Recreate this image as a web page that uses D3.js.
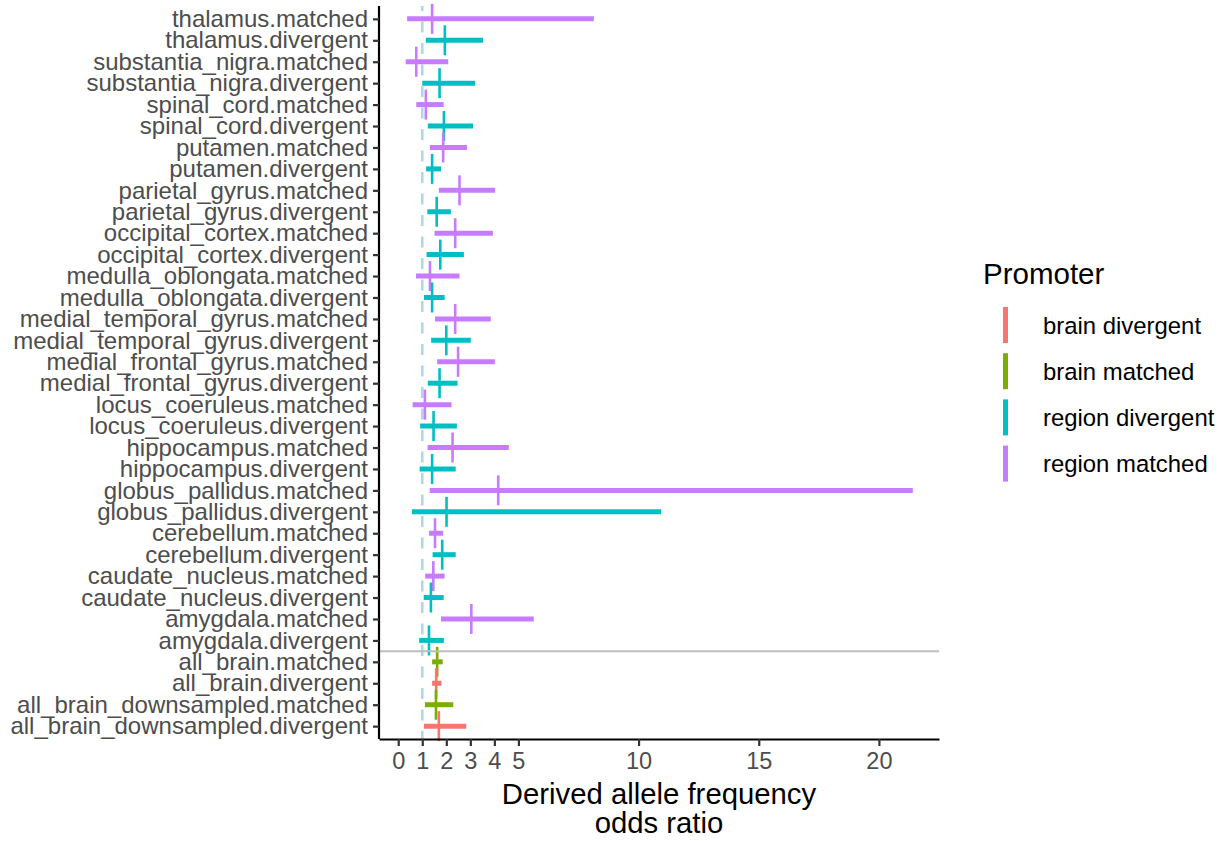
<!DOCTYPE html>
<html>
<head>
<meta charset="utf-8">
<script src="https://cdn.jsdelivr.net/npm/d3@7/dist/d3.min.js"></script>
<style>
  html, body { margin: 0; padding: 0; background: #fff; }
  svg { display: block; font-family: "Liberation Sans", Arial, Helvetica, sans-serif; }
</style>
</head>
<body>
<div id="chart"></div>
<script>
// rows, top to bottom
const rowLabels = [
  'thalamus.matched', 'thalamus.divergent',
  'substantia_nigra.matched', 'substantia_nigra.divergent',
  'spinal_cord.matched', 'spinal_cord.divergent',
  'putamen.matched', 'putamen.divergent',
  'parietal_gyrus.matched', 'parietal_gyrus.divergent',
  'occipital_cortex.matched', 'occipital_cortex.divergent',
  'medulla_oblongata.matched', 'medulla_oblongata.divergent',
  'medial_temporal_gyrus.matched', 'medial_temporal_gyrus.divergent',
  'medial_frontal_gyrus.matched', 'medial_frontal_gyrus.divergent',
  'locus_coeruleus.matched', 'locus_coeruleus.divergent',
  'hippocampus.matched', 'hippocampus.divergent',
  'globus_pallidus.matched', 'globus_pallidus.divergent',
  'cerebellum.matched', 'cerebellum.divergent',
  'caudate_nucleus.matched', 'caudate_nucleus.divergent',
  'amygdala.matched', 'amygdala.divergent',
  'all_brain.matched', 'all_brain.divergent',
  'all_brain_downsampled.matched', 'all_brain_downsampled.divergent'
];

const promoterGroup = [
  'region matched', 'region divergent', 'region matched', 'region divergent',
  'region matched', 'region divergent', 'region matched', 'region divergent',
  'region matched', 'region divergent', 'region matched', 'region divergent',
  'region matched', 'region divergent', 'region matched', 'region divergent',
  'region matched', 'region divergent', 'region matched', 'region divergent',
  'region matched', 'region divergent', 'region matched', 'region divergent',
  'region matched', 'region divergent', 'region matched', 'region divergent',
  'region matched', 'region divergent',
  'brain matched', 'brain divergent', 'brain matched', 'brain divergent'
];

const oddsRatio = [
  1.41, 1.94, 0.75, 1.72, 1.15, 1.90, 1.87, 1.41, 2.55, 1.60,
  2.37, 1.75, 1.32, 1.41, 2.37, 2.00, 2.49, 1.72, 1.11, 1.47,
  2.26, 1.41, 4.16, 2.01, 1.53, 1.83, 1.46, 1.36, 3.04, 1.28,
  1.62, 1.58, 1.57, 1.69
];
const ciLower = [
  0.37, 1.15, 0.31, 1.00, 0.75, 1.23, 1.32, 1.16, 1.69, 1.21,
  1.51, 1.18, 0.74, 1.07, 1.53, 1.37, 1.62, 1.23, 0.60, 0.91,
  1.22, 0.89, 1.31, 0.57, 1.28, 1.43, 1.12, 1.06, 1.78, 0.87,
  1.41, 1.41, 1.11, 1.07
];
const ciUpper = [
  8.14, 3.53, 2.08, 3.20, 1.89, 3.11, 2.86, 1.78, 4.03, 2.19,
  3.94, 2.73, 2.55, 1.93, 3.85, 3.02, 4.02, 2.47, 2.22, 2.44,
  4.60, 2.39, 21.41, 10.94, 1.87, 2.39, 1.93, 1.89, 5.64, 1.90,
  1.85, 1.80, 2.29, 2.83
];

const legendGroups = ['brain divergent', 'brain matched', 'region divergent', 'region matched'];
const legendColors = ['#F8766D', '#7CAE00', '#00BFC4', '#C77CFF'];
const xTicks = [0, 1, 2, 3, 4, 5, 10, 15, 20];
const refLine = 1;

const W = 1223, H = 841;
const panel = { left: 379, right: 939, top: 6, bottom: 739 };

const svg = d3.select('#chart').append('svg')
  .attr('width', W).attr('height', H);

const x = d3.scaleLinear().domain([-0.8, 22.5]).range([panel.left, panel.right]);
const y = d3.scalePoint().domain(rowLabels).range([panel.top, panel.bottom]).padding(0.6);
const color = d3.scaleOrdinal().domain(legendGroups).range(legendColors);

const rows = rowLabels.map((label, i) => ({
  label, group: promoterGroup[i], est: oddsRatio[i], lo: ciLower[i], hi: ciUpper[i]
}));

// dashed reference line at OR = 1
svg.append('line')
  .attr('x1', x(refLine)).attr('x2', x(refLine))
  .attr('y1', panel.top).attr('y2', panel.bottom)
  .attr('stroke', '#ADD8E6').attr('stroke-width', 2.6)
  .attr('stroke-dasharray', '11 10.5')
  .attr('stroke-dashoffset', panel.top);

// confidence bars
svg.append('g').selectAll('line').data(rows).join('line')
  .attr('x1', d => x(d.lo)).attr('x2', d => x(d.hi))
  .attr('y1', d => y(d.label)).attr('y2', d => y(d.label))
  .attr('stroke', d => color(d.group)).attr('stroke-width', 5);

// estimate marks
svg.append('g').selectAll('line').data(rows).join('line')
  .attr('x1', d => x(d.est)).attr('x2', d => x(d.est))
  .attr('y1', d => y(d.label) - 15).attr('y2', d => y(d.label) + 15)
  .attr('stroke', d => color(d.group)).attr('stroke-width', 2.6);

// separator between region rows and whole-brain rows
const sepY = (y('amygdala.divergent') + y('all_brain.matched')) / 2;
svg.append('line')
  .attr('x1', panel.left).attr('x2', panel.right)
  .attr('y1', sepY).attr('y2', sepY)
  .attr('stroke', '#BEBEBE').attr('stroke-width', 2);

// axes
const xAxis = svg.append('g')
  .attr('transform', `translate(0,${panel.bottom})`)
  .call(d3.axisBottom(x).tickValues(xTicks).tickSize(7).tickPadding(6).tickSizeOuter(0));
xAxis.select('.domain').attr('stroke', '#000').attr('stroke-width', 2.2);
xAxis.selectAll('.tick line').attr('stroke', '#333').attr('stroke-width', 2.2);
xAxis.selectAll('.tick text').attr('fill', '#4D4D4D').attr('font-size', '23.5px')
  .attr('font-family', '"Liberation Sans", Arial, sans-serif');

const yAxis = svg.append('g')
  .attr('transform', `translate(${panel.left},0)`)
  .call(d3.axisLeft(y).tickSize(6).tickPadding(5).tickSizeOuter(0));
yAxis.select('.domain').attr('stroke', '#000').attr('stroke-width', 2.2)
  .attr('d', `M0,${panel.top}V${panel.bottom}`);
yAxis.selectAll('.tick line').attr('stroke', '#333').attr('stroke-width', 2.2);
yAxis.selectAll('.tick text').attr('fill', '#4D4D4D').attr('font-size', '24px')
  .attr('font-family', '"Liberation Sans", Arial, sans-serif');

// x axis title
const xTitle = svg.append('text')
  .attr('x', (panel.left + panel.right) / 2)
  .attr('text-anchor', 'middle')
  .attr('font-size', '29.3px').attr('fill', '#000');
xTitle.append('tspan').attr('x', (panel.left + panel.right) / 2).attr('y', 804).text('Derived allele frequency');
xTitle.append('tspan').attr('x', (panel.left + panel.right) / 2).attr('y', 833).text('odds ratio');

// legend
const legend = svg.append('g');
legend.append('text').attr('x', 983).attr('y', 284)
  .attr('font-size', '29.5px').attr('fill', '#000').text('Promoter');
const items = legend.selectAll('g.item').data(legendGroups).join('g')
  .attr('class', 'item')
  .attr('transform', (d, i) => `translate(0,${325 + i * 46.2})`);
items.append('line')
  .attr('x1', 1005.5).attr('x2', 1005.5).attr('y1', -18).attr('y2', 18)
  .attr('stroke', d => color(d)).attr('stroke-width', 5);
items.append('text')
  .attr('x', 1043).attr('y', 8.5)
  .attr('font-size', '23.9px').attr('fill', '#000')
  .text(d => d);
</script>
</body>
</html>
